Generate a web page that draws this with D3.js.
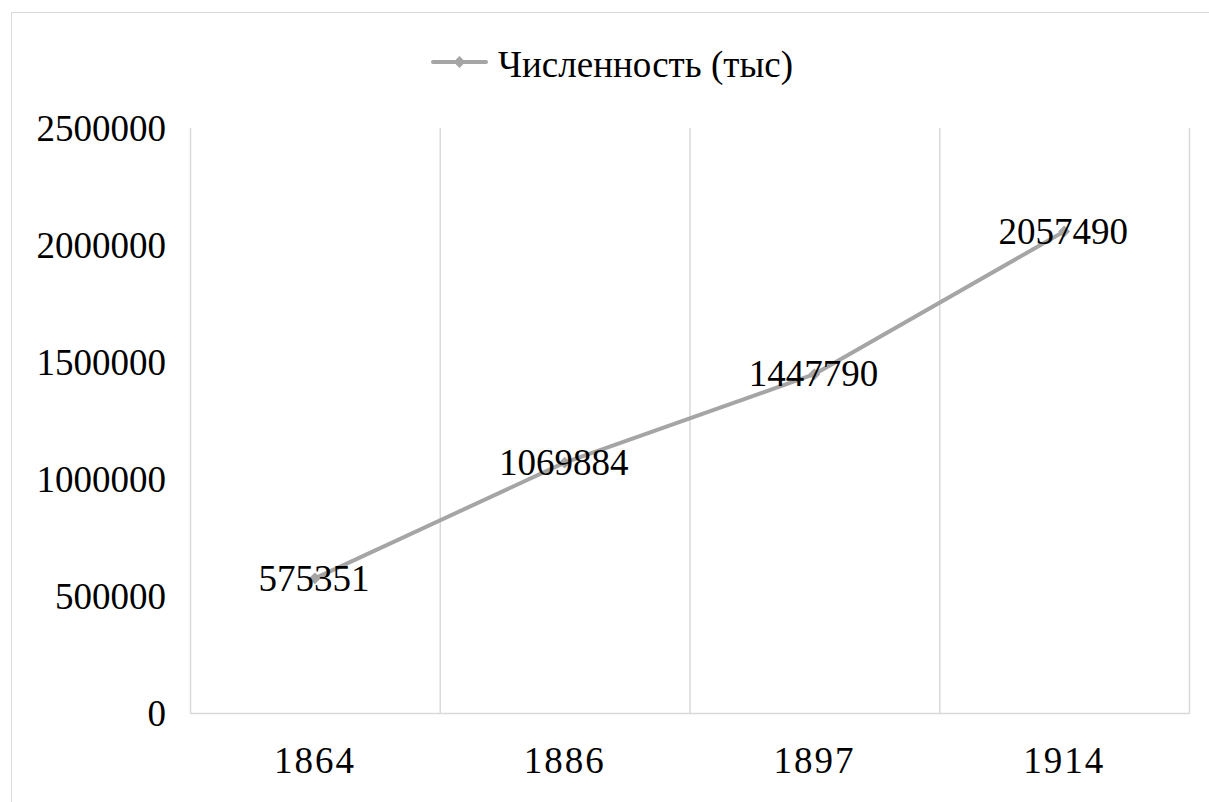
<!DOCTYPE html>
<html>
<head>
<meta charset="utf-8">
<script src="https://cdn.jsdelivr.net/npm/d3@7"></script>
<style>
  body { margin: 0; background: #fff; }
  text { font-family: "Liberation Serif", "Times New Roman", serif; fill: #000; }
</style>
</head>
<body>
<svg width="1209" height="802"></svg>
<script>
const years = ['1864', '1886', '1897', '1914'];
const values = [575351, 1069884, 1447790, 2057490];
const yTicks = [0, 500000, 1000000, 1500000, 2000000, 2500000];
const seriesName = 'Численность (тыс)';

const svg = d3.select('svg');
const width = +svg.attr('width');
const height = +svg.attr('height');

const plotLeft = 190;
const plotRight = 1189;
const plotTop = 128;
const plotBottom = 713;
const lineColor = '#a5a5a5';
const serif = '"Liberation Serif", "Times New Roman", serif';

// chart frame
svg.append('rect')
  .attr('x', 11.5)
  .attr('y', 12.5)
  .attr('width', width)
  .attr('height', height)
  .attr('fill', 'none')
  .attr('stroke', '#d9d9d9');

const x = d3.scaleBand().domain(years).range([plotLeft, plotRight]);
const y = d3.scaleLinear().domain([0, 2500000]).range([plotBottom, plotTop]);

// vertical gridlines between categories
const edges = years.map(d => x(d)).concat([plotRight]);
svg.append('g')
  .selectAll('line')
  .data(edges)
  .join('line')
  .attr('x1', d => d + 0.5)
  .attr('x2', d => d + 0.5)
  .attr('y1', plotTop)
  .attr('y2', plotBottom)
  .attr('stroke', '#d9d9d9')
  .attr('stroke-width', 1.5);

// base line
svg.append('line')
  .attr('x1', plotLeft)
  .attr('x2', plotRight + 1)
  .attr('y1', plotBottom + 0.5)
  .attr('y2', plotBottom + 0.5)
  .attr('stroke', '#d9d9d9')
  .attr('stroke-width', 1.5);

// y labels
const yAxis = svg.append('g')
  .attr('transform', `translate(${plotLeft - 24}, 0)`)
  .call(d3.axisLeft(y).tickValues(yTicks).tickSize(0).tickPadding(0).tickFormat(d3.format('d')));
yAxis.select('.domain').remove();
yAxis.attr('font-family', serif).attr('font-size', 37);
yAxis.selectAll('text')
  .attr('dy', '0.33em');

// x labels
const xAxis = svg.append('g')
  .attr('transform', `translate(0, ${plotBottom})`)
  .call(d3.axisBottom(x).tickSize(0).tickPadding(0));
xAxis.select('.domain').remove();
xAxis.attr('font-family', serif).attr('font-size', 37);
xAxis.selectAll('text')
  .style('letter-spacing', '2px')
  .attr('y', 60)
  .attr('dy', 0);

const pts = years.map((d, i) => [x(d) + x.bandwidth() / 2, y(values[i])]);

svg.append('path')
  .attr('d', d3.line()(pts))
  .attr('fill', 'none')
  .attr('stroke', lineColor)
  .attr('stroke-width', 4)
  .attr('stroke-linejoin', 'round')
  .attr('stroke-linecap', 'round');

const diamond = d3.symbol().type(d3.symbolDiamond2).size(90);
svg.append('g')
  .selectAll('path')
  .data(pts)
  .join('path')
  .attr('transform', d => `translate(${d[0]}, ${d[1]})`)
  .attr('d', diamond)
  .attr('fill', lineColor);

// data labels
svg.append('g')
  .selectAll('text')
  .data(pts)
  .join('text')
  .attr('x', d => d[0] - 1)
  .attr('y', d => d[1])
  .attr('text-anchor', 'middle')
  .attr('dy', '0.33em')
  .style('font-size', '37px')
  .text((d, i) => values[i]);

// legend
const lg = svg.append('g').attr('transform', 'translate(0, 62)');
lg.append('line')
  .attr('x1', 433)
  .attr('x2', 486)
  .attr('stroke', lineColor)
  .attr('stroke-width', 4)
  .attr('stroke-linecap', 'round');
lg.append('path')
  .attr('transform', 'translate(459.5, 0)')
  .attr('d', diamond)
  .attr('fill', lineColor);
lg.append('text')
  .attr('x', 498)
  .attr('y', 15)
  .style('font-size', '37px')
  .text(seriesName);
</script>
</body>
</html>
